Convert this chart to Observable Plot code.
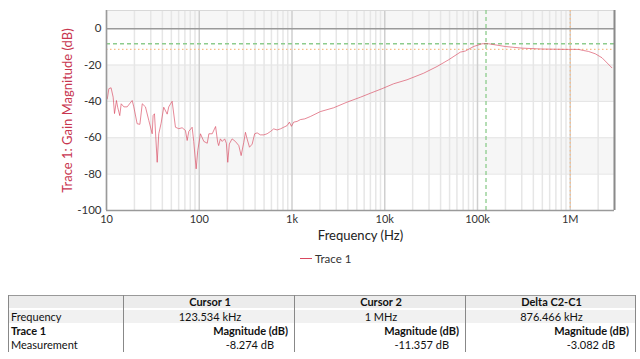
<!DOCTYPE html>
<html>
<head>
<meta charset="utf-8">
<script src="https://cdn.jsdelivr.net/npm/d3@7"></script>
<script src="https://cdn.jsdelivr.net/npm/@observablehq/plot@0.6"></script>
<style>
  html, body { margin: 0; padding: 0; background: #fff; }
  body { width: 640px; height: 359px; position: relative; overflow: hidden; font-family: Lato, "Open Sans", sans-serif; }
  #chart { position: absolute; left: 0; top: 0; }
  #legend { position: absolute; left: 300px; top: 252px; font-size: 11.5px; color: #333; display: flex; align-items: center; }
  #legend .sw { width: 12px; height: 0; border-top: 1.5px solid #d9485f; margin-right: 3px; }
  #tbl { position: absolute; left: 0; top: 0; width: 640px; height: 359px; font-size: 11px; color: #111; }
  #tbl div { position: absolute; white-space: nowrap; }
</style>
</head>
<body>
<div id="chart"></div>
<div id="legend"><span class="sw"></span><span id="legtext"></span></div>
<div id="tbl"></div>
<script>
// ---- data ----
const freqHz = [10.2, 10.6, 11.2, 11.8, 12.2, 12.8, 13.2, 13.9, 14.4, 15.4, 16.7, 18.9, 19.7, 21.4, 22.9, 24.3, 26.3, 28.6, 31.1, 31.8, 32.9, 35.2, 36.6, 38.8, 41.4, 45.1, 46.9, 51.0, 55.4, 60.1, 65.4, 71.0, 74.1, 77.1, 83.8, 87.2, 92.6, 96.4, 103, 112, 122, 127, 138, 150, 158, 162, 169, 177, 188, 196, 203, 211, 226, 245, 267, 283, 302, 315, 328, 348, 372, 396, 421, 456, 496, 539, 585, 635, 691, 750, 815, 886, 938, 986, 1043, 1135, 1233, 1372, 1579, 2022, 2814, 3924, 5461, 7000, 9353, 12470, 17390, 26240, 36620, 48850, 65300, 73900, 90800, 112000, 123534, 132000, 199500, 302000, 496000, 960000, 1000000, 1230000, 1390000, 1570000, 1860000, 2200000, 2810000];
const gainDb = [-38.6, -33, -32.5, -37.7, -46.7, -39.5, -43.2, -47.8, -41.3, -43, -43, -39.5, -43, -52.3, -52.6, -41.3, -43, -50.5, -57.8, -47.8, -46.8, -73.5, -57.8, -52, -43.2, -47, -43, -39.9, -54.2, -55, -54.5, -56, -61.5, -56.5, -54.2, -62, -77.1, -67, -57.8, -62, -63, -57.8, -57.8, -53.8, -62.5, -64.3, -60.6, -62, -60.6, -63, -73.5, -63.4, -60.6, -62, -64.3, -69.8, -62.5, -57, -60.6, -65.2, -63.5, -57.8, -57.3, -58.4, -58.4, -57.8, -56.6, -55.1, -55.7, -55.1, -54.2, -53.3, -51.4, -53.7, -51.4, -51, -50, -49.6, -48.3, -45.6, -43.5, -40.4, -37.7, -35.5, -33, -30.3, -28.1, -24.5, -20.8, -17.1, -12.9, -12.3, -9.8, -8.3, -8.274, -8.3, -9.8, -10.7, -11.2, -11.4, -11.357, -11.4, -12, -12.5, -13.8, -16, -21.5];

const yTicks = [0, -20, -40, -60, -80, -100];
const xTicks = [10, 100, 1000, 10000, 100000, 1000000];
const xTickLabels = ["10", "100", "1k", "10k", "100k", "1M"];
const bandTops = [10, -20, -60];
const bandBottoms = [0, -40, -80];

const cursorFreq = [123534, 1000000];
const cursorGain = [-8.274, -11.357];
const cursorColors = ["#8dcc8d", "#f6bd88"];
const cursorDash = ["4,3", "1.5,2.5"];

const seriesName = "Trace 1";
const tableHeaders = ["", "Cursor 1", "Cursor 2", "Delta C2-C1"];
const freqRow = ["Frequency", "123.534 kHz", "1 MHz", "876.466 kHz"];
const traceRow = ["Trace 1", "Magnitude (dB)", "Magnitude (dB)", "Magnitude (dB)"];
const measRow = ["Measurement", "-8.274 dB", "-11.357 dB", "-3.082 dB"];

// ---- chart ----
const trace = freqHz.map((f, i) => ({f, g: gainDb[i]}));
const bands = bandTops.map((t, i) => ({y1: t, y2: bandBottoms[i]}));
const minorTicks = d3.scaleLog().domain([10, 3e6]).ticks().filter(t => !xTicks.includes(t));

const cursorMarks = cursorFreq.flatMap((f, i) => [
  Plot.ruleX([f], {stroke: cursorColors[i], strokeWidth: 1.3, strokeDasharray: cursorDash[i]}),
  Plot.ruleY([cursorGain[i]], {stroke: cursorColors[i], strokeWidth: 1.3, strokeDasharray: cursorDash[i]})
]);

const chart = Plot.plot({
  width: 640,
  height: 245,
  marginTop: 10,
  marginBottom: 35,
  marginLeft: 106,
  marginRight: 26,
  style: {fontFamily: "Lato, 'Open Sans', sans-serif", fontSize: "11px", color: "#333", background: "transparent"},
  x: {type: "log", domain: [10, 3e6]},
  y: {domain: [-100, 10]},
  marks: [
    Plot.rect(bands, {x1: () => 10, x2: () => 3e6, y1: "y1", y2: "y2", fill: "#f6f6f6"}),
    Plot.ruleY(yTicks.filter(d => d !== 0), {stroke: "#e4e4e4", strokeWidth: 1}),
    Plot.ruleX(minorTicks, {stroke: "#e6e6e6", strokeWidth: 1.5}),
    Plot.ruleX(xTicks, {stroke: "#cfcfcf", strokeWidth: 1.5}),
    Plot.ruleY([10], {stroke: "#d8d8d8"}),
    Plot.ruleY([0], {stroke: "#9a9a9a", strokeWidth: 1.5}),
    ...cursorMarks,
    Plot.line(trace, {x: "f", y: "g", stroke: "#d9485f", strokeWidth: 1, strokeOpacity: 0.65}),
    Plot.ruleX([10], {stroke: "#9a9a9a", strokeWidth: 1.5}),
    Plot.ruleX([3e6], {stroke: "#8a8a8a", strokeWidth: 2}),
    Plot.ruleY([-100], {stroke: "#9a9a9a", strokeWidth: 1.5}),
    Plot.axisX({ticks: xTicks, tickFormat: (d) => xTickLabels[xTicks.indexOf(d)], tickSize: 0, tickPadding: 5, label: null, fontSize: 11}),
    Plot.axisY({ticks: yTicks, tickFormat: d => String(d), tickSize: 0, tickPadding: 5, label: null, fontSize: 11.5}),
    Plot.text(["Frequency (Hz)"], {frameAnchor: "bottom", lineAnchor: "middle", dy: 25, fontSize: 13, fill: "#222"}),
    Plot.text(["Trace 1: Gain Magnitude (dB)"], {frameAnchor: "left", textAnchor: "middle", lineAnchor: "middle", dx: -39, rotate: -90, fontSize: 13, fill: "#c8364f"})
  ]
});
document.getElementById("chart").appendChild(chart);
document.getElementById("legtext").textContent = seriesName;

// ---- cursor table ----
const tbl = document.getElementById("tbl");
const colX = [8, 123, 294, 465, 635];
const rowY = [295, 309, 323, 337, 352];
function box(l, t, w, h, css) {
  const d = document.createElement("div");
  d.style.left = l + "px"; d.style.top = t + "px"; d.style.width = w + "px"; d.style.height = h + "px";
  Object.assign(d.style, css);
  tbl.appendChild(d);
}
function txt(s, l, t, w, align, bold, pr) {
  const d = document.createElement("div");
  d.textContent = s;
  d.style.left = l + "px"; d.style.top = t + "px"; d.style.width = w + "px";
  d.style.textAlign = align; d.style.lineHeight = "14px";
  d.style.fontWeight = bold ? "bold" : "normal";
  d.style.boxSizing = "border-box";
  d.style.paddingRight = (pr || 0) + "px";
  d.style.paddingLeft = "3px";
  tbl.appendChild(d);
}
box(colX[0], rowY[0], colX[4] - colX[0], rowY[1] - rowY[0] - 1, {background: "#ececec"});
box(colX[0], rowY[1] + 1, colX[4] - colX[0], rowY[2] - rowY[1] - 1, {background: "#f1f1f1"});
box(colX[0], rowY[0], colX[4] - colX[0], 0, {borderTop: "1px solid #999"});
for (const x of colX) box(x, rowY[0], 0, rowY[4] - rowY[0], {borderLeft: "1px solid #888"});
for (let c = 1; c < 4; c++) {
  txt(tableHeaders[c], colX[c], rowY[0], colX[c + 1] - colX[c], "center", true);
  txt(freqRow[c], colX[c], rowY[1] + 1, colX[c + 1] - colX[c], "center", false);
  txt(traceRow[c], colX[c], rowY[2] + 1, colX[c + 1] - colX[c], "right", true, 6);
  txt(measRow[c], colX[c], rowY[3] + 1, colX[c + 1] - colX[c], "right", false, c === 2 ? 16 : 20);
}
txt(freqRow[0], colX[0], rowY[1] + 1, colX[1] - colX[0], "left", false);
txt(traceRow[0], colX[0], rowY[2] + 1, colX[1] - colX[0], "left", true);
txt(measRow[0], colX[0], rowY[3] + 1, colX[1] - colX[0], "left", false);
</script>
</body>
</html>
